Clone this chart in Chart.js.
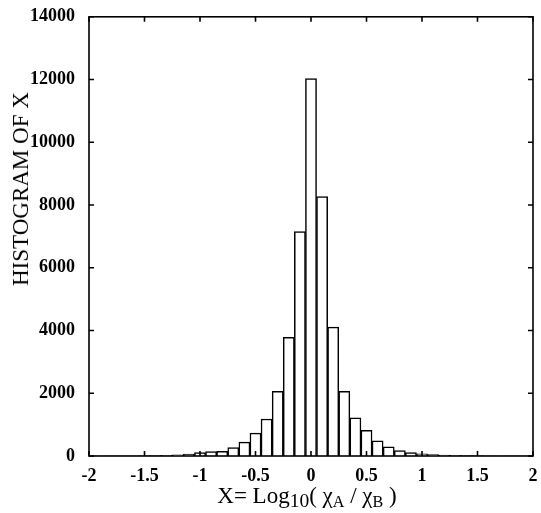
<!DOCTYPE html>
<html>
<head>
<meta charset="utf-8">
<script src="https://cdn.jsdelivr.net/npm/chart.js@4/dist/chart.umd.min.js"></script>
<style>
    body { margin: 0; background: #fff; }
    #wrap { position: relative; width: 541px; height: 513px; }
    .axisTitle { position: absolute; font-family: 'Liberation Serif', 'Times New Roman', serif; color: #000; white-space: nowrap; }
    #yTitle { left: 21px; top: 189px; font-size: 23px; transform: translate(-50%, -50%) rotate(-90deg); }
    #xTitle { left: 307px; top: 496px; font-size: 23px; transform: translate(-50%, -50%); }
    #xTitle sub { font-size: 0.85em; vertical-align: -0.2em; line-height: 0; }
    #xTitle sub.sm { font-size: 0.7em; vertical-align: -0.25em; }
</style>
</head>
<body>
<div id="wrap">
    <canvas id="histChart"></canvas>
    <div class="axisTitle" id="yTitle">HISTOGRAM OF X</div>
    <div class="axisTitle" id="xTitle">X= Log<sub>10</sub>( χ<sub class="sm">A</sub> / χ<sub class="sm">B</sub> )</div>
</div>
<script>
// ===== 直方图数据 =====
const binCenters = [
    -1.9, -1.8, -1.7, -1.6, -1.5, -1.4, -1.3, -1.2, -1.1, -1.0,
    -0.9, -0.8, -0.7, -0.6, -0.5, -0.4, -0.3, -0.2, -0.1, 0.0,
    0.1, 0.2, 0.3, 0.4, 0.5, 0.6, 0.7, 0.8, 0.9, 1.0,
    1.1, 1.2, 1.3, 1.4, 1.5, 1.6, 1.7, 1.8, 1.9
];
const binCounts = [
    3, 4, 6, 8, 10, 15, 22, 35, 60, 110,
    140, 145, 270, 440, 730, 1180, 2060, 3780, 7150, 12030,
    8270, 4110, 2060, 1220, 820, 480, 290, 170, 110, 70,
    45, 30, 20, 14, 10, 7, 5, 4, 3
];
const xTicks = [-2, -1.5, -1, -0.5, 0, 0.5, 1, 1.5, 2];
const yTicks = [0, 2000, 4000, 6000, 8000, 10000, 12000, 14000];

const tickFont = { family: "'Liberation Serif', 'Times New Roman', serif", size: 18, weight: 'bold' };

// 边框 + 向内的刻度线（四边）
const boxTicks = {
    id: 'boxTicks',
    afterDraw(chart) {
        const { ctx, chartArea: { left, right, top, bottom }, scales: { x, y } } = chart;
        const len = 5;
        ctx.save();
        ctx.strokeStyle = '#000';
        ctx.lineWidth = 1.6;
        ctx.strokeRect(left, top, right - left, bottom - top);
        ctx.beginPath();
        xTicks.forEach(v => {
            const px = x.getPixelForValue(v);
            ctx.moveTo(px, bottom); ctx.lineTo(px, bottom - len);
            ctx.moveTo(px, top); ctx.lineTo(px, top + len);
        });
        yTicks.forEach(v => {
            const py = y.getPixelForValue(v);
            ctx.moveTo(left, py); ctx.lineTo(left + len, py);
            ctx.moveTo(right, py); ctx.lineTo(right - len, py);
        });
        ctx.stroke();
        ctx.restore();
    }
};

new Chart(document.getElementById('histChart'), {
    type: 'bar',
    data: {
        datasets: [{
            data: binCenters.map((c, i) => ({ x: c, y: binCounts[i] })),
            backgroundColor: '#fff',
            borderColor: '#000',
            borderWidth: 1.5,
            borderSkipped: 'bottom',
            barPercentage: 1,
            categoryPercentage: 1
        }]
    },
    options: {
        responsive: true,
        maintainAspectRatio: false,
        animation: false,
        layout: { padding: { top: 13, right: 8, left: 0, bottom: 0 } },
        plugins: {
            legend: { display: false },
            tooltip: { enabled: false }
        },
        scales: {
            x: {
                type: 'linear',
                min: -2,
                max: 2,
                offset: false,
                grid: { display: false },
                border: { display: false },
                afterBuildTicks: scale => { scale.ticks = xTicks.map(v => ({ value: v })); },
                afterFit: scale => { scale.height = 57; },
                ticks: {
                    font: tickFont,
                    color: '#000',
                    padding: 2,
                    maxRotation: 0,
                    autoSkip: false,
                    callback: v => String(v)
                }
            },
            y: {
                min: 0,
                max: 14000,
                grid: { display: false },
                border: { display: false },
                afterBuildTicks: scale => { scale.ticks = yTicks.map(v => ({ value: v })); },
                afterFit: scale => { scale.width = 89; },
                ticks: {
                    font: tickFont,
                    color: '#000',
                    padding: 6,
                    callback: v => String(v)
                }
            }
        }
    },
    plugins: [boxTicks]
});
</script>
</body>
</html>
